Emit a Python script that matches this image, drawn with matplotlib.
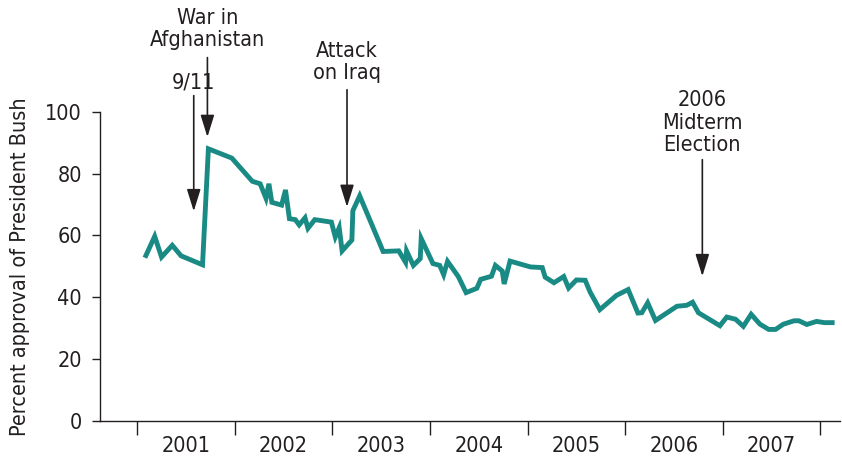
import numpy as np
import matplotlib
matplotlib.use("Agg")
import matplotlib.pyplot as plt

plt.rcParams['font.family'] = ['DejaVu Sans']
plt.rcParams['font.stretch'] = 'condensed'

# Decimal year of each poll and the approval percentage
poll_time = [2001.09, 2001.18, 2001.25, 2001.36, 2001.45, 2001.67, 2001.73, 2001.97,
             2002.18, 2002.26, 2002.32, 2002.35, 2002.38, 2002.48, 2002.52, 2002.56,
             2002.62, 2002.66, 2002.72, 2002.75, 2002.82, 2002.99, 2003.03, 2003.07,
             2003.10, 2003.20, 2003.21, 2003.28, 2003.52, 2003.68, 2003.75, 2003.76,
             2003.83, 2003.90, 2003.91, 2004.03, 2004.10, 2004.14, 2004.18, 2004.29,
             2004.37, 2004.48, 2004.52, 2004.63, 2004.67, 2004.74, 2004.76, 2004.82,
             2005.03, 2005.15, 2005.18, 2005.27, 2005.37, 2005.42, 2005.50, 2005.59,
             2005.64, 2005.74, 2005.91, 2006.03, 2006.13, 2006.17, 2006.23, 2006.31,
             2006.53, 2006.63, 2006.69, 2006.75, 2006.97, 2007.04, 2007.13, 2007.21,
             2007.29, 2007.38, 2007.47, 2007.54, 2007.62, 2007.73, 2007.78, 2007.86,
             2007.96, 2008.04, 2008.12]
approval = [53.5, 59.7, 53.0, 56.8, 53.4, 50.5, 88.0, 85.0,
            77.5, 76.7, 72.0, 76.7, 70.7, 69.8, 74.7, 65.4,
            65.1, 63.4, 65.7, 62.3, 65.1, 64.3, 59.5, 62.5,
            55.0, 58.5, 68.0, 72.8, 54.8, 55.0, 51.3, 55.0,
            50.3, 52.5, 59.0, 50.9, 50.3, 47.3, 51.6, 46.7,
            41.5, 42.9, 45.8, 46.8, 50.3, 48.5, 44.3, 51.7,
            49.8, 49.6, 46.5, 44.7, 46.7, 43.0, 45.6, 45.5,
            41.7, 36.0, 40.6, 42.5, 34.9, 35.0, 38.2, 32.5,
            37.1, 37.4, 38.4, 35.0, 30.8, 33.6, 32.9, 30.6,
            34.5, 31.3, 29.6, 29.6, 31.3, 32.4, 32.4, 31.2,
            32.2, 31.8, 31.8]

years = [2001, 2002, 2003, 2004, 2005, 2006, 2007]

# label, x position (year), arrow tip value, arrow top value, text centre value
events = [
    ("9/11", 2001.58, 67.8, 105.2, 109.5),
    ("War in\nAfghanistan", 2001.72, 91.8, 117.5, 126.7),
    ("Attack\non Iraq", 2003.15, 69.2, 107.1, 116.0),
    ("2006\nMidterm\nElection", 2006.79, 46.8, 84.5, 96.5),
]

ink = '#231f20'
teal = '#1a8a85'
fs = 15.5

fig = plt.figure(figsize=(8.42, 4.61), dpi=100)
ax = fig.add_axes([0.1188, 0.0868, 0.8788, 0.6709])

ax.plot(poll_time, approval, color=teal, lw=3.5, solid_joinstyle='miter', zorder=3)

ax.set_xlim(2000.62, 2008.2)
ax.set_ylim(0, 100)
ax.set_yticks([0, 20, 40, 60, 80, 100])
ax.set_xticks(np.arange(2001, 2009))
ax.set_xticklabels([])
ax.set_xticks([y + 0.5 for y in years], minor=True)
ax.set_xticklabels([str(y) for y in years], minor=True)
ax.tick_params(axis='x', which='major', length=10, width=1, color=ink, direction='out')
ax.tick_params(axis='x', which='minor', length=0, pad=11, labelsize=fs, labelcolor=ink)
ax.tick_params(axis='y', length=6, width=1, color=ink, labelsize=fs, labelcolor=ink, pad=7)

for s in ['top', 'right']:
    ax.spines[s].set_visible(False)
for s in ['left', 'bottom']:
    ax.spines[s].set_color(ink)
    ax.spines[s].set_linewidth(1)

ax.set_ylabel("Percent approval of President Bush", fontsize=fs, color=ink, labelpad=11)

for label, xpos, tip, top, ty in events:
    ax.annotate("", xy=(xpos, tip), xytext=(xpos, top), annotation_clip=False,
                arrowprops=dict(arrowstyle='-|>,head_length=1.35,head_width=0.42',
                                color=ink, lw=1.2, shrinkA=0, shrinkB=0))
    ax.text(xpos, ty, label, ha='center', va='center', fontsize=fs, color=ink,
            linespacing=1.15, clip_on=False)

fig.savefig("out.png", dpi=100)
